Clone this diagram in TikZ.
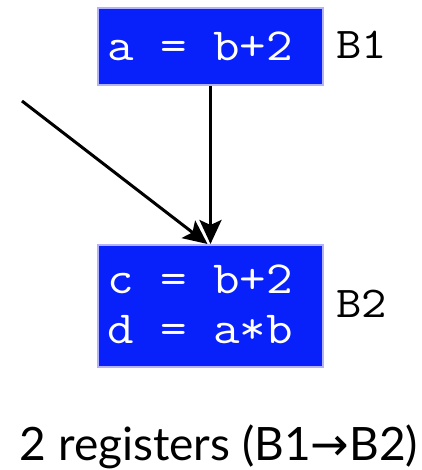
\documentclass[tikz,border=0pt]{standalone}
\usepackage{fontspec}
\usetikzlibrary{arrows.meta}
\setmainfont{Lato}
\newfontfamily\arrowfont{DejaVu Sans}
\definecolor{blockblue}{RGB}{8,32,250}
\definecolor{blockedge}{RGB}{178,178,255}
\tikzset{
  block/.style={draw=blockedge, line width=2pt, fill=blockblue,
    inner sep=0pt, minimum width=225pt},
  codetext/.style={anchor=base west, inner sep=0pt, xscale=1.12, transform shape},
  flow/.style={line width=3pt, -{Stealth[length=24pt,width=22pt,inset=5pt]}},
}
\begin{document}
\begin{tikzpicture}[x=1pt,y=-1pt]
  \useasboundingbox (0,0) rectangle (421,470);
  % basic blocks
  \node[block, minimum height=77pt] (b1) at (210.5,46.5) {};
  \node[block, minimum height=122pt] (b2) at (210.5,306) {};
  % block contents
  \node[codetext, text=white] (s1) at (107,61)
    {\ttfamily\fontsize{46}{50}\selectfont a = b+2};
  \node[codetext, text=white] (s2) at (107,293)
    {\ttfamily\fontsize{46}{50}\selectfont c = b+2};
  \node[codetext, text=white] (s3) at (107,343)
    {\ttfamily\fontsize{46}{50}\selectfont d = a*b};
  % block names
  \node[codetext] (l1) at (336,59) {\ttfamily\fontsize{44}{50}\selectfont B1};
  \node[codetext] (l2) at (336,317) {\ttfamily\fontsize{44}{50}\selectfont B2};
  % control-flow edges
  \coordinate (entry) at (22,101);
  \draw[flow] (b1.south) -- (b2.north);
  \draw[flow] (entry) -- ([xshift=-3pt]b2.north);
  % caption
  \node[anchor=base, inner sep=0pt] (cap) at (219,460)
    {\fontsize{46}{52}\selectfont 2 registers (B1{\arrowfont →}B2)};
\end{tikzpicture}
\end{document}
